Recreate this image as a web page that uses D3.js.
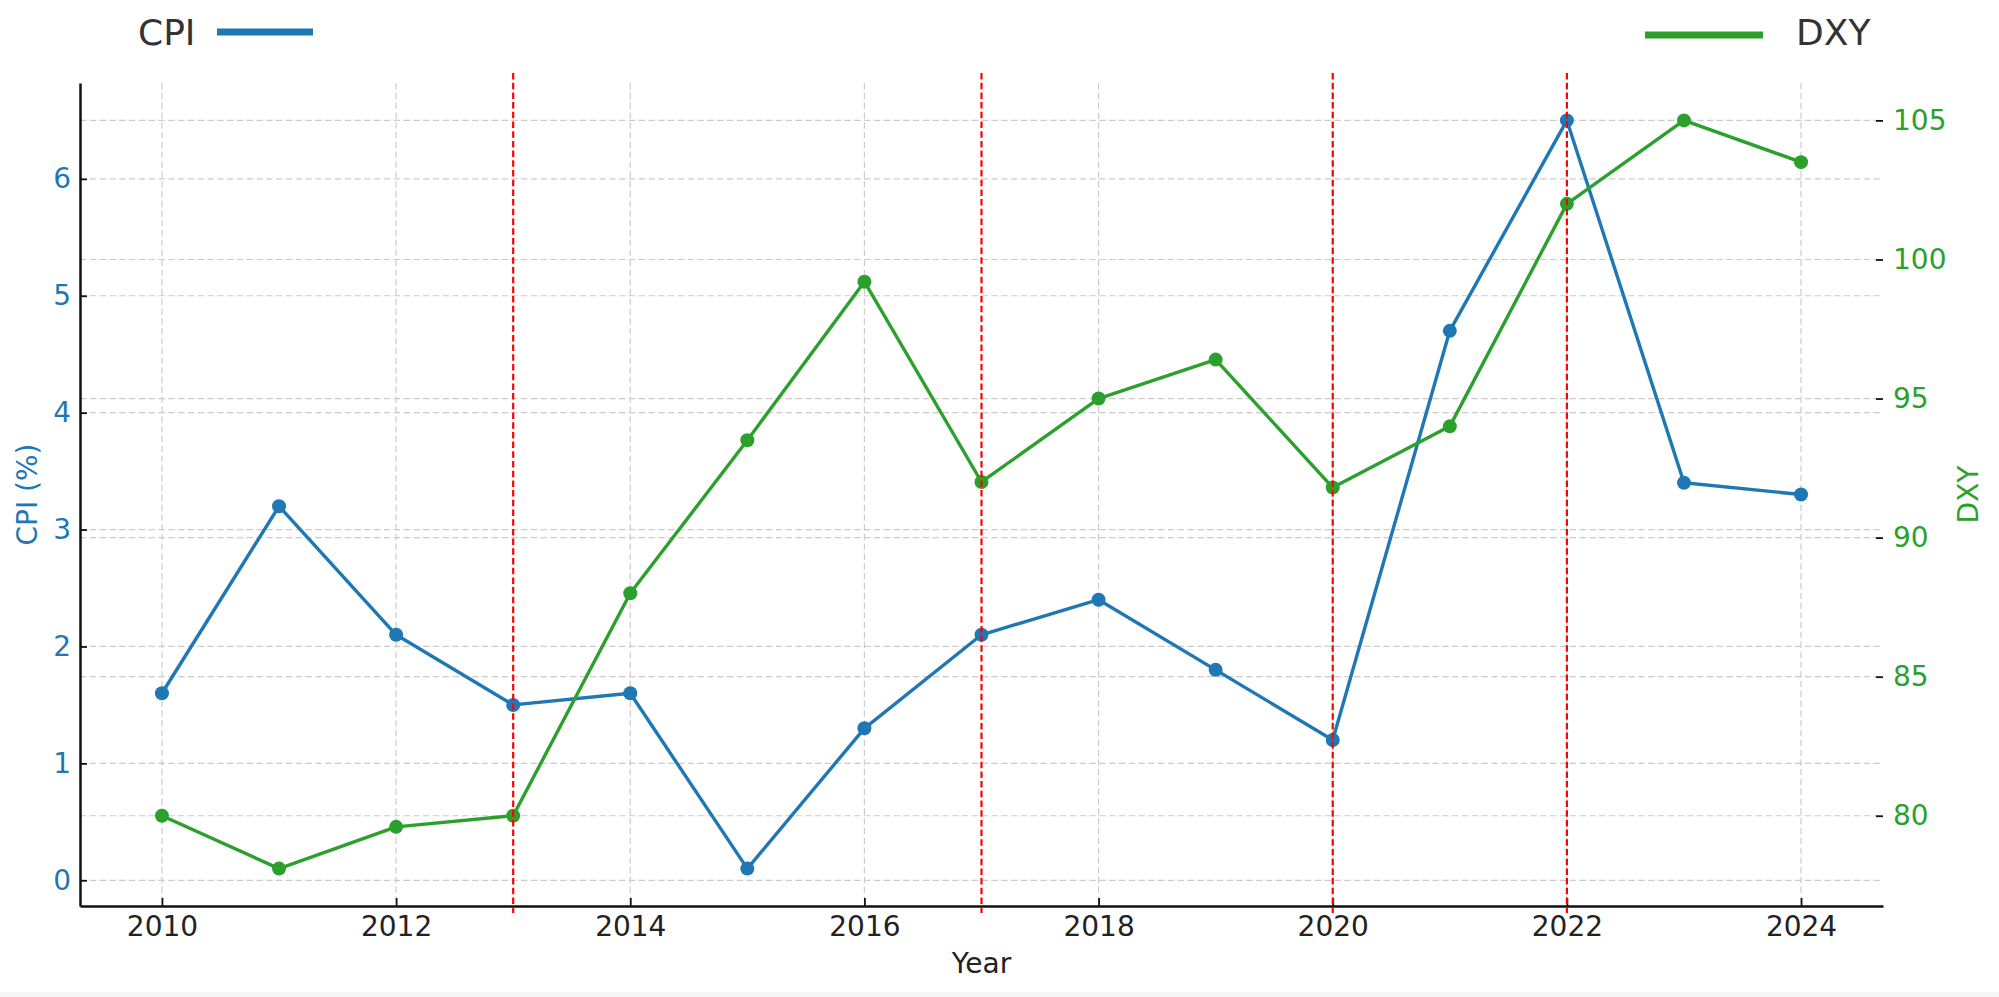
<!DOCTYPE html>
<html>
<head>
<meta charset="utf-8">
<script src="https://cdn.jsdelivr.net/npm/d3@7"></script>
<style>
  html, body { margin: 0; padding: 0; background: #fff; }
  svg { display: block; font-family: "DejaVu Sans", sans-serif; }
</style>
</head>
<body>
<svg id="chart" width="1999" height="997"></svg>
<script>
// ---- data ----
const years = [2010, 2011, 2012, 2013, 2014, 2015, 2016, 2017, 2018, 2019, 2020, 2021, 2022, 2023, 2024];
const cpi   = [1.6, 3.2, 2.1, 1.5, 1.6, 0.1, 1.3, 2.1, 2.4, 1.8, 1.2, 4.7, 6.5, 3.4, 3.3];
const dxy   = [80.0, 78.1, 79.6, 80.0, 88.0, 93.5, 99.2, 92.0, 95.0, 96.4, 91.8, 94.0, 102.0, 105.0, 103.5];
const eventYears = [2013, 2017, 2020, 2022];
const xTicks = [2010, 2012, 2014, 2016, 2018, 2020, 2022, 2024];
const cpiTicks = [0, 1, 2, 3, 4, 5, 6];
const dxyTicks = [80, 85, 90, 95, 100, 105];
const seriesNames = ["CPI", "DXY"];
const axisTitles = { x: "Year", left: "CPI (%)", right: "DXY" };

// ---- layout ----
const L = 80, R = 1883, T = 83, B = 906;
const BLUE = "#1f77b4", GREEN = "#2ca02c", RED = "#ff0000";

const svg = d3.select("#chart");
svg.append("rect").attr("x", 0).attr("y", 0).attr("width", 1999).attr("height", 997).attr("fill", "#fff");
svg.append("rect").attr("x", 0).attr("y", 992).attr("width", 1999).attr("height", 5).attr("fill", "#f7f7f7");

const pad = (lo, hi) => { const m = (hi - lo) * 0.05; return [lo - m, hi + m]; };
const x = d3.scaleLinear().domain(pad(d3.min(years), d3.max(years))).range([L, R]);
const yL = d3.scaleLinear().domain(pad(d3.min(cpi), d3.max(cpi))).range([B, T]);
const yR = d3.scaleLinear().domain(pad(d3.min(dxy), d3.max(dxy))).range([B, T]);

// ---- grids ----
const grid = svg.append("g").attr("stroke", "#cccccc").attr("stroke-width", 1.2)
  .attr("stroke-dasharray", "6.5,3.3").attr("fill", "none");
grid.selectAll("line.vx").data(xTicks).join("line")
  .attr("x1", d => x(d)).attr("x2", d => x(d)).attr("y1", T).attr("y2", B);
grid.selectAll("line.hl").data(cpiTicks).join("line").attr("class", "hl")
  .attr("x1", L).attr("x2", R).attr("y1", d => yL(d)).attr("y2", d => yL(d));
grid.selectAll("line.hr").data(dxyTicks).join("line").attr("class", "hr")
  .attr("x1", L).attr("x2", R).attr("y1", d => yR(d)).attr("y2", d => yR(d));

// ---- axes ----
const fs = 28;
const xAxis = svg.append("g").attr("transform", `translate(0,${B})`)
  .call(d3.axisBottom(x).tickValues(xTicks).tickFormat(d3.format("d")).tickSizeInner(-8).tickSizeOuter(0).tickPadding(10));
xAxis.selectAll("text").attr("fill", "#222").attr("font-size", fs);

const lAxis = svg.append("g").attr("transform", `translate(${L},0)`)
  .call(d3.axisLeft(yL).tickValues(cpiTicks).tickFormat(d3.format("d")).tickSizeInner(-7).tickSizeOuter(0).tickPadding(9));
lAxis.selectAll("text").attr("fill", BLUE).attr("font-size", fs);

const rAxis = svg.append("g").attr("transform", `translate(${R},0)`)
  .call(d3.axisRight(yR).tickValues(dxyTicks).tickFormat(d3.format("d")).tickSizeInner(-7).tickSizeOuter(0).tickPadding(10));
rAxis.selectAll("text").attr("fill", GREEN).attr("font-size", fs);
rAxis.select(".domain").remove();

[xAxis, lAxis, rAxis].forEach(a => {
  a.selectAll(".tick line").attr("stroke", "#111").attr("stroke-width", 1.8);
  a.selectAll(".domain").attr("stroke", "#111").attr("stroke-width", 2.5);
  a.attr("font-family", "DejaVu Sans");
});

// ---- axis titles ----
svg.append("text").attr("x", (L + R) / 2).attr("y", 973).attr("text-anchor", "middle")
  .attr("font-size", fs).attr("fill", "#222").text(axisTitles.x);
svg.append("text").attr("transform", `translate(37,${(T + B) / 2}) rotate(-90)`).attr("text-anchor", "middle")
  .attr("font-size", fs).attr("fill", BLUE).text(axisTitles.left);
svg.append("text").attr("transform", `translate(1978,${(T + B) / 2}) rotate(-90)`).attr("text-anchor", "middle")
  .attr("font-size", fs).attr("fill", GREEN).text(axisTitles.right);

// ---- series ----
const cpiData = years.map((y, i) => ({ y, v: cpi[i] }));
const dxyData = years.map((y, i) => ({ y, v: dxy[i] }));

svg.append("path").datum(cpiData).attr("fill", "none").attr("stroke", BLUE).attr("stroke-width", 3.4)
  .attr("stroke-linejoin", "round").attr("d", d3.line().x(d => x(d.y)).y(d => yL(d.v)));
svg.append("g").selectAll("circle").data(cpiData).join("circle")
  .attr("cx", d => x(d.y)).attr("cy", d => yL(d.v)).attr("r", 7).attr("fill", BLUE);

svg.append("path").datum(dxyData).attr("fill", "none").attr("stroke", GREEN).attr("stroke-width", 3.4)
  .attr("stroke-linejoin", "round").attr("d", d3.line().x(d => x(d.y)).y(d => yR(d.v)));
svg.append("g").selectAll("circle").data(dxyData).join("circle")
  .attr("cx", d => x(d.y)).attr("cy", d => yR(d.v)).attr("r", 7).attr("fill", GREEN);

// ---- event lines ----
svg.append("g").selectAll("line").data(eventYears).join("line")
  .attr("x1", d => x(d)).attr("x2", d => x(d)).attr("y1", 73).attr("y2", 913)
  .attr("stroke", RED).attr("stroke-width", 2.2).attr("stroke-dasharray", "6.5,3.2");

// ---- legends ----
svg.append("text").attr("x", 138).attr("y", 45).attr("font-size", 36).attr("fill", "#333").text(seriesNames[0]);
svg.append("line").attr("x1", 217).attr("x2", 313).attr("y1", 32).attr("y2", 32)
  .attr("stroke", BLUE).attr("stroke-width", 7);
svg.append("line").attr("x1", 1645).attr("x2", 1763).attr("y1", 35).attr("y2", 35)
  .attr("stroke", GREEN).attr("stroke-width", 7);
svg.append("text").attr("x", 1796).attr("y", 45).attr("font-size", 36).attr("fill", "#333").text(seriesNames[1]);
</script>
</body>
</html>
